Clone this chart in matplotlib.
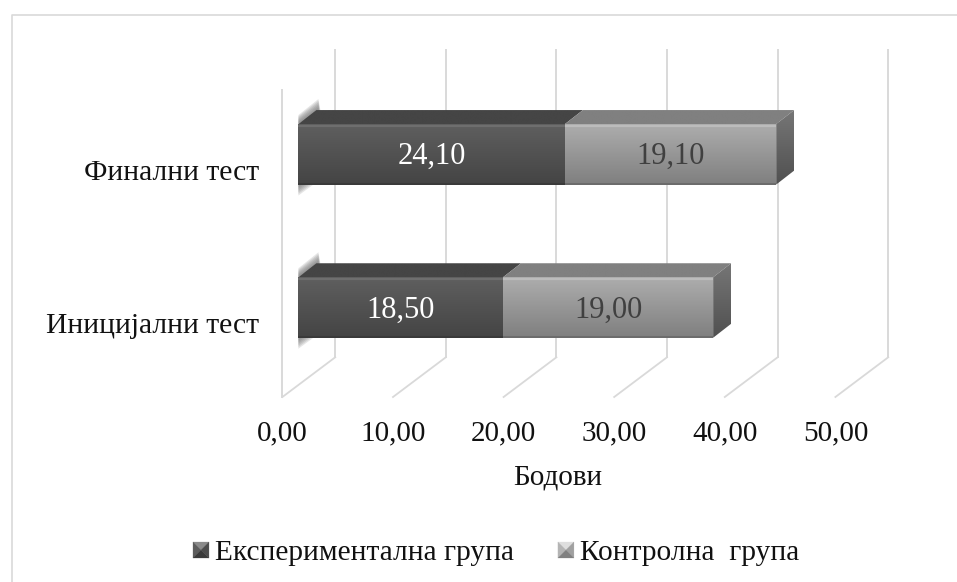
import numpy as np
import matplotlib
matplotlib.use("Agg")
import matplotlib.pyplot as plt
from matplotlib.patches import Polygon, Patch
from matplotlib.lines import Line2D
from matplotlib.legend_handler import HandlerBase
from matplotlib.transforms import Affine2D

plt.rcParams['font.family'] = ['Liberation Serif', 'DejaVu Serif']

categories = ['Иницијални тест', 'Финални тест']
experimental = [18.50, 24.10]
control = [19.00, 19.10]
series_names = ['Експериментална група', 'Контролна  група']
ticks = [0, 10, 20, 30, 40, 50]
tick_labels = ['0,00', '10,00', '20,00', '30,00', '40,00', '50,00']
axis_title = 'Бодови'

W, H = 957, 582
fig = plt.figure(figsize=(W / 100, H / 100), dpi=100, facecolor='white')

X0, X50, YB, YT = 282.4, 835.4, 397.0, 90.0
ax = fig.add_axes([X0 / W, 1 - YB / H, (X50 - X0) / W, (YB - YT) / H])
ax.set_xlim(0, 50)
Y_PER = 153.2
CAT0 = 323.0
ylims = ((CAT0 - YB) / Y_PER, (CAT0 - YT) / Y_PER)
ax.set_ylim(*ylims)
ax.patch.set_visible(False)
for s in ax.spines.values():
    s.set_visible(False)
ux = (X50 - X0) / 50.0
GRID = '#d9d9d9'

# frame around the chart: top and left edges only are inside the picture
fig.add_artist(Line2D([11.7 / W, 11.7 / W, 1.0],
                      [0, 1 - 14.8 / H, 1 - 14.8 / H],
                      color=GRID, lw=1.2))

# walls and floor
DEPTH_X, DEPTH_Y = 52.8, 39.7
back = ax.transData + Affine2D().translate(DEPTH_X, DEPTH_Y)
for t in ticks:
    ax.plot([t, t], ylims, color=GRID, lw=1.4, transform=back, clip_on=False, zorder=1)
    ax.plot([t, t + DEPTH_X / ux], [ylims[0], ylims[0] + DEPTH_Y / Y_PER], color=GRID,
            lw=1.3, clip_on=False, zorder=1)
ax.plot([0, 0], ylims, color=GRID, lw=1.4, zorder=1, clip_on=False)

# bars
BX, BY = 16.0, 15.5          # front face offset from the front plane (px)
DX, DY = 18.0, 14.0          # bar depth (px)
BAR_H = 60.5 / Y_PER
front = ax.transData + Affine2D().translate(BX, BY)
label_pos = ax.transData + Affine2D().translate(BX, BY - 2.5)


def disp(x, y, ox=0.0, oy=0.0):
    p = ax.transData.transform((x, y))
    return (p[0] + BX + ox, p[1] + BY + oy)


def grad_poly(pts, c_top, c_bot, zorder=3):
    pts = np.array(pts)
    c1 = np.array(matplotlib.colors.to_rgb(c_top))
    c2 = np.array(matplotlib.colors.to_rgb(c_bot))
    g = np.linspace(0, 1, 64)[:, None, None]
    img = c1[None, None, :] * (1 - g) + c2[None, None, :] * g
    im = ax.imshow(np.repeat(img, 2, axis=1), aspect='auto', zorder=zorder, interpolation='bilinear',
                   transform=Affine2D(),
                   extent=(pts[:, 0].min(), pts[:, 0].max(), pts[:, 1].min(), pts[:, 1].max()),
                   origin='upper')
    im.set_clip_path(Polygon(pts, closed=True, transform=Affine2D()))
    return im


def soft_wedge(inner, outer, steps=6, col='#6a6a6a', zorder=2):
    """Stack of translucent polygons fading from the inner edge to the outer one."""
    inner = np.array(inner, float)
    outer = np.array(outer, float)
    for k in range(steps):
        f = (k + 1) / steps
        pts = inner + (outer - inner) * f
        ax.add_patch(Polygon(pts, closed=True, transform=Affine2D(), facecolor=col,
                             edgecolor='none', alpha=0.17, zorder=zorder, clip_on=False))


DARK = dict(front=('#5f5f5f', '#444444'), top='#454545', edge='#6e6e6e')
LIGHT = dict(front=('#adadad', '#7f7f7f'), top='#808080', edge='#bcbcbc')

for i, cat in enumerate(categories):
    e, c = experimental[i], control[i]
    y0, y1 = i - BAR_H / 2, i + BAR_H / 2
    # soft shadow on the left wall
    a = np.array(disp(0, y1))
    b = np.array(disp(0, y0))
    soft_wedge([a, a + (0, 1), a + (20, 15), a + (20, 14)],
               [a, a + (0, 9), a + (20, 25), a + (22, 14)])
    soft_wedge([b, b + (0, -1), b + (2, 0)],
               [b, b + (0, -11), b + (15, 0)])
    for left, width, sty in ((0, e, DARK), (e, c, LIGHT)):
        right = left + width
        # top face
        grad_poly([disp(left, y1), disp(right, y1), disp(right, y1, DX, DY), disp(left, y1, DX, DY)],
                  sty['top'], sty['top'], zorder=3)
        # front face
        ax.barh(i, width, height=BAR_H, left=left, color=sty['front'][1], transform=front,
                zorder=4, linewidth=0, clip_on=False)
        grad_poly([disp(left, y1), disp(right, y1), disp(right, y0), disp(left, y0)],
                  sty['front'][0], sty['front'][1], zorder=5)
        # lighter bevel on top and darker on bottom of the face
        ax.plot([left, right], [y1 - 2 / Y_PER] * 2, color=sty['edge'], lw=1.6, transform=front,
                zorder=6, solid_capstyle='butt', clip_on=False)
        ax.plot([left, right], [y0 + 0.8 / Y_PER] * 2, color='#3a3a3a' if sty is DARK else '#6a6a6a',
                lw=1.3, transform=front, zorder=6, solid_capstyle='butt', clip_on=False)
    # end cap of the stack
    tot = e + c
    grad_poly([disp(tot, y1), disp(tot, y1, DX, DY), disp(tot, y0, DX, DY), disp(tot, y0)],
              '#767676', '#505050', zorder=5)
    # value labels
    ax.text(e / 2, i, f'{e:.2f}'.replace('.', ','), transform=label_pos, ha='center', va='center',
            color='white', fontsize=22, zorder=8)
    ax.text(e + c / 2, i, f'{c:.2f}'.replace('.', ','), transform=label_pos, ha='center', va='center',
            color='#404040', fontsize=22, zorder=8)

ax.set_xlim(0, 50)
ax.set_ylim(*ylims)
ax.set_aspect('auto')

ax.set_xticks(ticks)
ax.set_xticklabels(tick_labels, fontsize=21, color='#111111')
ax.set_yticks(range(len(categories)))
ax.set_yticklabels(categories, fontsize=21.3, color='#111111')
ax.tick_params(axis='both', length=0)
ax.tick_params(axis='x', pad=17)
ax.tick_params(axis='y', pad=17)
ax.set_xlabel(axis_title, fontsize=21, color='#111111')
ax.xaxis.set_label_coords((558 - X0) / (X50 - X0), -(464 - YB) / (YB - YT))


class PyramidHandler(HandlerBase):
    def __init__(self, cols):
        super().__init__()
        self.cols = cols

    def create_artists(self, legend, orig, xd, yd, w, h, fontsize, trans):
        s = 11.5
        x0 = -xd
        y0 = (h - s) / 2 - yd
        a = np.array([x0, y0]); b = a + [s, 0]; c = a + [s, s]; d = a + [0, s]
        m = a + [s / 2, s / 2]
        out = []
        for tri, col in zip(((d, c, m), (a, d, m), (c, b, m), (a, b, m)), self.cols):
            out.append(Polygon(np.array(tri), closed=True, facecolor=col, edgecolor=col,
                               lw=0.2, transform=trans))
        return out


h1 = Patch(label=series_names[0])
h2 = Patch(label=series_names[1])
leg = fig.legend(handles=[h1, h2], labels=series_names, ncols=2, frameon=False, fontsize=21.2,
                 loc='center', bbox_to_anchor=((192 + 800) / 2 / W, 1 - 553 / H),
                 handler_map={h1: PyramidHandler(('#8a8a8a', '#5c5c5c', '#4c4c4c', '#3a3a3a')),
                              h2: PyramidHandler(('#dedede', '#b4b4b4', '#a0a0a0', '#808080'))},
                 handlelength=0.54, handletextpad=0.2, columnspacing=1.5,
                 borderpad=0, borderaxespad=0)
for t in leg.get_texts():
    t.set_color('#111111')

fig.savefig('out.png', dpi=100, facecolor='white')
